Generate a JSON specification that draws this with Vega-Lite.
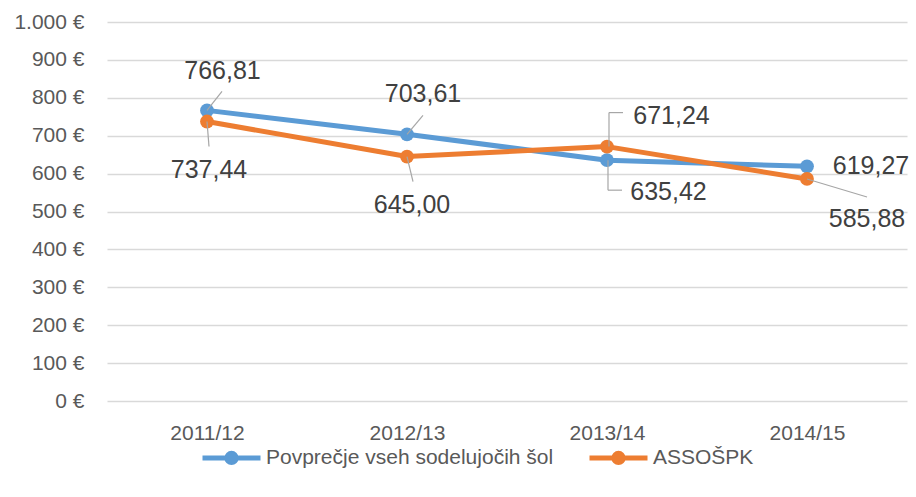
{
  "$schema": "https://vega.github.io/schema/vega-lite/v6.json",
  "width": 800,
  "height": 379,
  "autosize": {"type": "none"},
  "padding": {"left": 107, "top": 22, "right": 9, "bottom": 96},
  "background": "white",
  "data": {
    "values": [
      {"year": "2011/12", "series": "Povprečje vseh sodelujočih šol", "value": 766.81},
      {"year": "2012/13", "series": "Povprečje vseh sodelujočih šol", "value": 703.61},
      {"year": "2013/14", "series": "Povprečje vseh sodelujočih šol", "value": 635.42},
      {"year": "2014/15", "series": "Povprečje vseh sodelujočih šol", "value": 619.27},
      {"year": "2011/12", "series": "ASSOŠPK", "value": 737.44},
      {"year": "2012/13", "series": "ASSOŠPK", "value": 645.00},
      {"year": "2013/14", "series": "ASSOŠPK", "value": 671.24},
      {"year": "2014/15", "series": "ASSOŠPK", "value": 585.88}
    ]
  },
  "encoding": {
    "x": {
      "field": "year", "type": "ordinal",
      "scale": {"type": "point", "padding": 0.5},
      "axis": {"title": null, "labelAngle": 0, "labelPadding": 21, "grid": false}
    },
    "y": {
      "field": "value", "type": "quantitative",
      "scale": {"domain": [0, 1000], "nice": false},
      "axis": {
        "title": null,
        "values": [0, 100, 200, 300, 400, 500, 600, 700, 800, 900, 1000],
        "labelExpr": "replace(format(datum.value, ',.0f'), ',', '.') + ' €'",
        "labelPadding": 23,
        "grid": true
      }
    }
  },
  "layer": [
    {
      "mark": {"type": "line", "strokeWidth": 5, "strokeCap": "round", "strokeJoin": "round",
               "point": {"filled": true, "size": 190, "opacity": 1}},
      "encoding": {
        "color": {
          "field": "series", "type": "nominal",
          "scale": {"domain": ["Povprečje vseh sodelujočih šol", "ASSOŠPK"], "range": ["#5B9BD5", "#ED7D31"]},
          "legend": {
            "title": null,
            "encode": {"symbols": {"update": {
              "fill": {"scale": "color", "field": "value"},
              "stroke": {"scale": "color", "field": "value"},
              "strokeWidth": {"value": 5},
              "opacity": {"value": 1}
            }}}
          }
        }
      }
    },
    {
      "transform": [{"filter": "datum.value == 766.81"}],
      "mark": {"type": "rule", "color": "#A6A6A6", "strokeWidth": 1.2, "x2Offset": 15, "y2Offset": -19},
      "encoding": {"x2": {"field": "year"}, "y2": {"field": "value"}}
    },
    {
      "transform": [{"filter": "datum.value == 737.44"}],
      "mark": {"type": "rule", "color": "#A6A6A6", "strokeWidth": 1.2, "x2Offset": 2, "y2Offset": 25},
      "encoding": {"x2": {"field": "year"}, "y2": {"field": "value"}}
    },
    {
      "transform": [{"filter": "datum.value == 703.61"}],
      "mark": {"type": "rule", "color": "#A6A6A6", "strokeWidth": 1.2, "x2Offset": 16, "y2Offset": -19},
      "encoding": {"x2": {"field": "year"}, "y2": {"field": "value"}}
    },
    {
      "transform": [{"filter": "datum.value == 645"}],
      "mark": {"type": "rule", "color": "#A6A6A6", "strokeWidth": 1.2, "x2Offset": 6, "y2Offset": 25},
      "encoding": {"x2": {"field": "year"}, "y2": {"field": "value"}}
    },
    {
      "transform": [{"filter": "datum.value == 671.24"}],
      "mark": {"type": "rule", "color": "#A6A6A6", "strokeWidth": 1.2, "xOffset": 2, "x2Offset": 2, "y2Offset": -34},
      "encoding": {"x2": {"field": "year"}, "y2": {"field": "value"}}
    },
    {
      "transform": [{"filter": "datum.value == 671.24"}],
      "mark": {"type": "rule", "color": "#A6A6A6", "strokeWidth": 1.2, "xOffset": 2, "yOffset": -34, "x2Offset": 16, "y2Offset": -34},
      "encoding": {"x2": {"field": "year"}, "y2": {"field": "value"}}
    },
    {
      "transform": [{"filter": "datum.value == 635.42"}],
      "mark": {"type": "rule", "color": "#A6A6A6", "strokeWidth": 1.2, "xOffset": 1, "x2Offset": 1, "y2Offset": 30},
      "encoding": {"x2": {"field": "year"}, "y2": {"field": "value"}}
    },
    {
      "transform": [{"filter": "datum.value == 635.42"}],
      "mark": {"type": "rule", "color": "#A6A6A6", "strokeWidth": 1.2, "xOffset": 1, "yOffset": 30, "x2Offset": 15, "y2Offset": 30},
      "encoding": {"x2": {"field": "year"}, "y2": {"field": "value"}}
    },
    {
      "transform": [{"filter": "datum.value == 585.88"}],
      "mark": {"type": "rule", "color": "#A6A6A6", "strokeWidth": 1.2, "x2Offset": 60, "y2Offset": 18},
      "encoding": {"x2": {"field": "year"}, "y2": {"field": "value"}}
    },
    {
      "transform": [{"filter": "datum.value == 766.81"}],
      "mark": {"type": "text", "dx": 15.5, "dy": -39, "fontSize": 25, "color": "#404040", "baseline": "middle"},
      "encoding": {"text": {"field": "value", "type": "quantitative", "format": ".2f"}}
    },
    {
      "transform": [{"filter": "datum.value == 737.44"}],
      "mark": {"type": "text", "dx": 2, "dy": 48.5, "fontSize": 25, "color": "#404040", "baseline": "middle"},
      "encoding": {"text": {"field": "value", "type": "quantitative", "format": ".2f"}}
    },
    {
      "transform": [{"filter": "datum.value == 703.61"}],
      "mark": {"type": "text", "dx": 16, "dy": -40, "fontSize": 25, "color": "#404040", "baseline": "middle"},
      "encoding": {"text": {"field": "value", "type": "quantitative", "format": ".2f"}}
    },
    {
      "transform": [{"filter": "datum.value == 645"}],
      "mark": {"type": "text", "dx": 5, "dy": 48.5, "fontSize": 25, "color": "#404040", "baseline": "middle"},
      "encoding": {"text": {"field": "value", "type": "quantitative", "format": ".2f"}}
    },
    {
      "transform": [{"filter": "datum.value == 671.24"}],
      "mark": {"type": "text", "dx": 64.5, "dy": -30.6, "fontSize": 25, "color": "#404040", "baseline": "middle"},
      "encoding": {"text": {"field": "value", "type": "quantitative", "format": ".2f"}}
    },
    {
      "transform": [{"filter": "datum.value == 635.42"}],
      "mark": {"type": "text", "dx": 61.5, "dy": 32, "fontSize": 25, "color": "#404040", "baseline": "middle"},
      "encoding": {"text": {"field": "value", "type": "quantitative", "format": ".2f"}}
    },
    {
      "transform": [{"filter": "datum.value == 619.27"}],
      "mark": {"type": "text", "dx": 64, "dy": 0, "fontSize": 25, "color": "#404040", "baseline": "middle"},
      "encoding": {"text": {"field": "value", "type": "quantitative", "format": ".2f"}}
    },
    {
      "transform": [{"filter": "datum.value == 585.88"}],
      "mark": {"type": "text", "dx": 60, "dy": 40, "fontSize": 25, "color": "#404040", "baseline": "middle"},
      "encoding": {"text": {"field": "value", "type": "quantitative", "format": ".2f"}}
    }
  ],
  "config": {
    "font": "Liberation Sans",
    "locale": {"number": {"decimal": ",", "thousands": ".", "grouping": [3], "currency": ["", " €"]}},
    "view": {"stroke": null},
    "axis": {
      "domain": false, "ticks": false, "tickSize": 0,
      "labelFont": "Liberation Sans", "labelFontSize": 21, "labelColor": "#595959",
      "gridColor": "#D9D9D9", "gridWidth": 1.3
    },
    "legend": {
      "orient": "none", "legendX": 93, "legendY": 404, "direction": "horizontal",
      "symbolType": "M-1,0H1M0.16,0A0.16,0.16,0,1,1,-0.16,0A0.16,0.16,0,1,1,0.16,0Z",
      "symbolSize": 3364, "symbolStrokeWidth": 5,
      "labelFont": "Liberation Sans", "labelFontSize": 21, "labelColor": "#595959",
      "labelOffset": 3, "labelLimit": 0, "columnPadding": 25
    }
  }
}
